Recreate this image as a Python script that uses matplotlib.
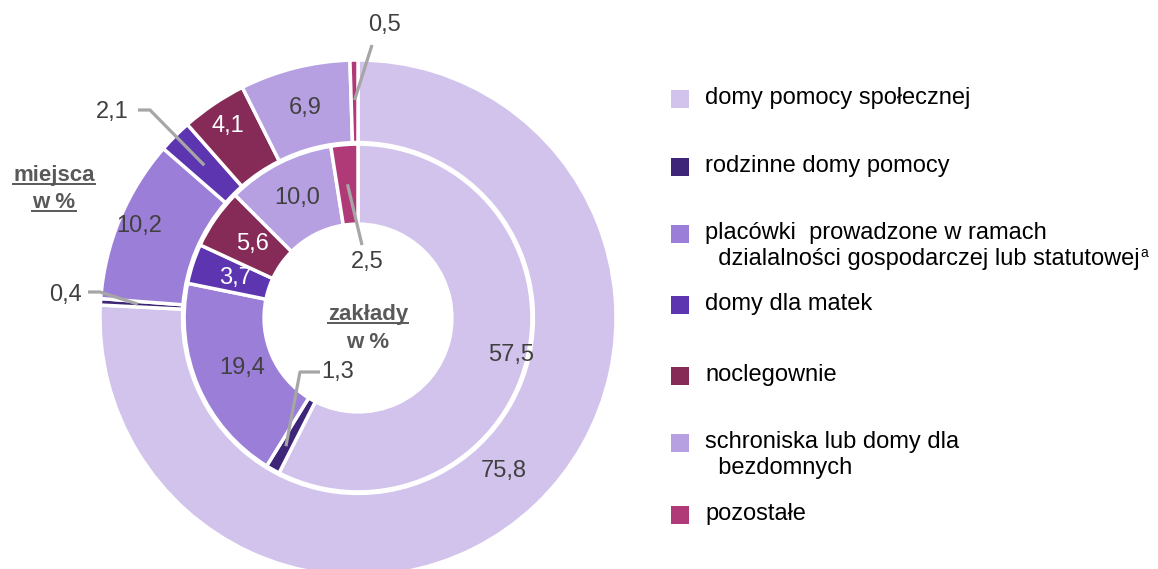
import matplotlib
matplotlib.use('Agg')
import matplotlib.pyplot as plt
from matplotlib.patches import Rectangle
from matplotlib.lines import Line2D
import numpy as np

plt.rcParams['font.family'] = ['Liberation Sans', 'DejaVu Sans']

# data
categories = ['domy pomocy społecznej',
              'rodzinne domy pomocy',
              'placówki  prowadzone w ramach\n  dzialalności gospodarczej lub statutowej',
              'domy dla matek',
              'noclegownie',
              'schroniska lub domy dla\n  bezdomnych',
              'pozostałe']
miejsca = [75.8, 0.4, 10.2, 2.1, 4.1, 6.9, 0.5]   # outer ring
zaklady = [57.5, 1.3, 19.4, 3.7, 5.6, 10.0, 2.5]  # inner ring
colors = ['#D1C3EC', '#3F2577', '#9B7ED8', '#5E35B1', '#862B57', '#B6A0E1', '#B03A78']

W, H = 1158, 569
cx, cy, R = 358, 318, 258          # pie centre / radius in pixels

def d(px, py):
    # pixel -> data coords of the pie axes
    return (px - cx) / R, (cy - py) / R

def mid_angles(vals):
    c = np.cumsum([0] + list(vals[:-1]))
    return np.deg2rad(90 - 360 * (c + np.array(vals) / 2) / sum(vals))

fig = plt.figure(figsize=(W / 100, H / 100), dpi=100)
ax = fig.add_axes([(cx - R) / W, 1 - (cy + R) / H, 2 * R / W, 2 * R / H])

r_out, w_out = 1.0, 0.32
r_in, w_in = 0.674, 0.31
ax.pie(miejsca, radius=r_out, startangle=90, counterclock=False, colors=colors,
       wedgeprops=dict(width=w_out, edgecolor='white', linewidth=2.5))
ax.pie(zaklady, radius=r_in, startangle=90, counterclock=False, colors=colors,
       wedgeprops=dict(width=w_in, edgecolor='white', linewidth=2.5))
ax.set_xlim(-1, 1)
ax.set_ylim(-1, 1)
ax.axis('off')

dark = '#404040'
lead = '#A6A6A6'
fs_num = 17

# labels inside wedges (radius per label)
inner_r = {0: 0.61, 2: 0.49, 3: 0.5, 4: 0.5, 5: 0.52}
outer_r = {0: 0.82, 2: 0.92, 4: 0.90, 5: 0.84}

def fmt(v):
    return f'{v:.1f}'.replace('.', ',')

for vals, rr in ((miejsca, outer_r), (zaklady, inner_r)):
    ang = mid_angles(vals)
    for i, r in rr.items():
        col = 'white' if i in (3, 4) else dark
        ax.text(r * np.cos(ang[i]), r * np.sin(ang[i]), fmt(vals[i]),
                ha='center', va='center', fontsize=fs_num, color=col)

# callouts: (values, index, wedge radius, text pixel pos, elbow pixel points)
callouts = [
    (miejsca, 6, 0.845, (385, 25), [(372, 45)]),
    (miejsca, 3, 0.84, (112, 112), [(150, 110), (138, 110)]),
    (miejsca, 1, 0.855, (65, 295), [(100, 292), (88, 292)]),
    (zaklady, 6, 0.52, (367, 262), [(362, 245)]),
    (zaklady, 1, 0.57, (338, 372), [(300, 372), (320, 372)]),
]
for vals, i, r, tp, pts in callouts:
    a = mid_angles(vals)[i]
    xs = [r * np.cos(a)] + [d(*p)[0] for p in pts]
    ys = [r * np.sin(a)] + [d(*p)[1] for p in pts]
    ax.plot(xs, ys, color=lead, lw=2.3, solid_capstyle='butt', clip_on=False)
    tx, ty = d(*tp)
    ax.text(tx, ty, fmt(vals[i]), ha='center', va='center', fontsize=fs_num,
            color=dark, clip_on=False)

# ring titles (bold, underlined)
title_col = '#595959'
titles = [('miejsca', 54, 181, True), ('w %', 54, 208, True),
          ('zakłady', 368, 320, True), ('w %', 368, 348, False)]
fig.canvas.draw()
renderer = fig.canvas.get_renderer()
for s, px, py, ul in titles:
    t = fig.text(px / W, 1 - py / H, s, ha='center', va='baseline', fontsize=16,
                 fontweight='bold', color=title_col)
    if ul:
        bb = t.get_window_extent(renderer)
        yy = 1 - (py + 2.5) / H
        fig.add_artist(Line2D([bb.x0 / W, bb.x1 / W], [yy, yy], color=title_col, lw=1.4))

# legend
rows = [99, 167, 234, 305, 376, 443, 515]
sq = 18
for lab, col, py in zip(categories, colors, rows):
    fig.add_artist(Rectangle(((680 - sq / 2) / W, 1 - (py + sq / 2) / H), sq / W, sq / H,
                             facecolor=col, edgecolor='none'))
    t = fig.text(705 / W, 1 - (py - 12) / H, lab, ha='left', va='top', fontsize=17,
                 color='#000000', linespacing=1.22)
    if lab.startswith('placówki'):
        ax.annotate('a', xy=(1, 0.5), xycoords=t, xytext=(0.5, 0), textcoords='offset points',
                    ha='left', va='top', fontsize=10, color='#000000')

fig.savefig('out.png', dpi=100)
